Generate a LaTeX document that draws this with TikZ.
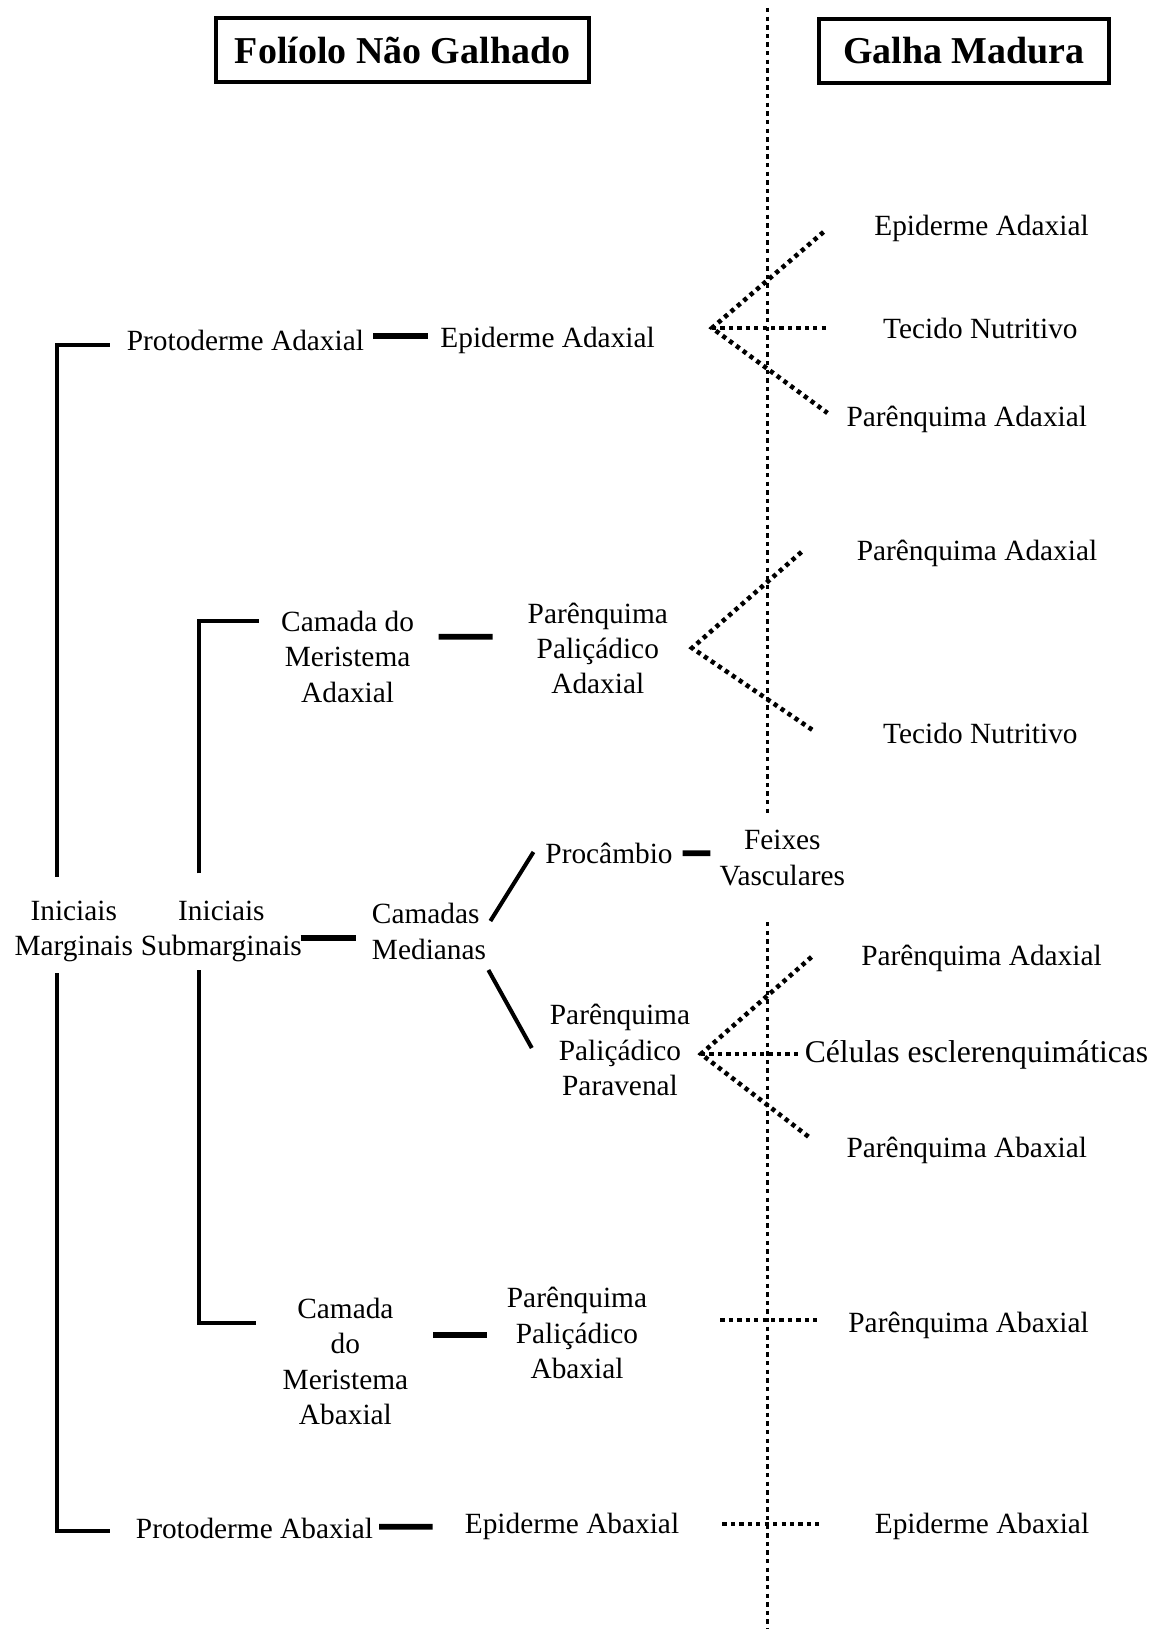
\documentclass[tikz,border=0pt]{standalone}
\usepackage{fontspec}
\setmainfont{Liberation Serif}
\usepackage{tikz}
\tikzset{
  lbl/.style={font=\fontsize{16.7}{20.1}\selectfont, align=center, inner sep=0pt},
  titlebox/.style={draw, line width=2.5pt, inner sep=0pt, font=\bfseries\fontsize{21.6}{26}\selectfont},
  tree/.style={line width=2.3pt},
  bar/.style={line width=3.3pt},
  guide/.style={line width=2.2pt, dash pattern=on 2.5pt off 2.4pt},
  fan/.style={line width=2.6pt, dash pattern=on 2.4pt off 2.4pt},
}

\begin{document}
\begin{tikzpicture}[x=0.02cm, y=-0.02cm]
\useasboundingbox (0,0) rectangle (1158,1629);

% headings
\node[titlebox, minimum width=7.46cm, minimum height=1.28cm] (folhead) at (402.5,50) {Folíolo Não Galhado};
\node[titlebox, minimum width=5.79cm, minimum height=1.28cm] (galhead) at (964,51) {Galha Madura};

% dividing line
\coordinate (gtop) at (767.5,8);
\coordinate (gmid) at (767.5,813);
\coordinate (glow) at (767.5,922);
\coordinate (gbot) at (767.5,1629);
\draw[guide] (gtop) -- (gmid);
\draw[guide] (glow) -- (gbot);

% leaflet side
\node[lbl] (inimarg) at (73.8,931.5) {Iniciais\\Marginais};
\node[lbl] (inisub) at (221.4,931.5) {Iniciais\\Submarginais};
\node[lbl, align=left] (camed) at (429,931.5) {Camadas\\Medianas};
\node[lbl] (protad) at (245.4,340) {Protoderme Adaxial};
\node[lbl] (epiad) at (547.6,340) {Epiderme Adaxial};
\node[lbl] (camad) at (347.6,656.7) {Camada do\\Meristema\\Adaxial};
\node[lbl] (ppad) at (597.8,648.3) {Parênquima\\Paliçádico\\Adaxial};
\node[lbl] (procamb) at (609,853.3) {Procâmbio};
\node[lbl] (feixes) at (782.3,858) {Feixes\\Vasculares};
\node[lbl] (pppv) at (620,1050) {Parênquima\\Paliçádico\\Paravenal};
\node[lbl] (camab) at (345.4,1361.5) {Camada\\do\\Meristema\\Abaxial};
\node[lbl] (ppab) at (577,1333) {Parênquima\\Paliçádico\\Abaxial};
\node[lbl] (protab) at (254.5,1528.3) {Protoderme Abaxial};
\node[lbl] (epiab) at (572,1526) {Epiderme Abaxial};

% gall side
\node[lbl] (gEpiAd) at (981.5,228) {Epiderme Adaxial};
\node[lbl] (gTecA) at (980.4,328) {Tecido Nutritivo};
\node[lbl] (gParA) at (966.8,419) {Parênquima Adaxial};
\node[lbl] (gParB) at (977,553) {Parênquima Adaxial};
\node[lbl] (gTecB) at (980.4,733) {Tecido Nutritivo};
\node[lbl] (gParC) at (981.5,958) {Parênquima Adaxial};
\node[lbl, font=\fontsize{18}{21}\selectfont] (gCel) at (976.5,1055) {Células esclerenquimáticas};
\node[lbl] (gParD) at (966.8,1150) {Parênquima Abaxial};
\node[lbl] (gParE) at (968.6,1325) {Parênquima Abaxial};
\node[lbl] (gEpiAb) at (982,1526.7) {Epiderme Abaxial};

% brackets
\draw[tree] ([shift={(-17,-24)}]inimarg.north) |- ([shift={(-16.3,5)}]protad.west);
\draw[tree] ([shift={(-17,11)}]inimarg.south) |- ([shift={(-25.4,2.4)}]protab.west);
\draw[tree] ([shift={(-22.4,-27.3)}]inisub.north) |- ([shift={(-22.1,-35.7)}]camad.west);
\draw[tree] ([shift={(-22.4,7.6)}]inisub.south) |- ([shift={(-26.7,-38.8)}]camab.west);

% short links
\draw[bar] ([shift={(9,-4)}]protad.east) -- ([shift={(-12.6,-4)}]epiad.west);
\draw[bar] ([shift={(24.2,-20)}]camad.east) -- ([shift={(-34.7,-11.6)}]ppad.west);
\draw[bar] ([shift={(-1.6,6.2)}]inisub.east) -- ([shift={(-15.3,6.2)}]camed.west);
\draw[bar] ([shift={(9.7,0)}]procamb.east) -- ([shift={(-8.9,-4.7)}]feixes.west);
\draw[bar] ([shift={(24.9,-26.5)}]camab.east) -- ([shift={(-20,2)}]ppab.west);
\draw[bar] ([shift={(5.7,-1.6)}]protab.east) -- ([shift={(-31.8,0.7)}]epiab.west);
\draw[tree] ([shift={(4,-10.5)}]camed.east) -- ([shift={(-11.6,-1.3)}]procamb.west);
\draw[tree] ([shift={(2,38.5)}]camed.east) -- ([shift={(-17.8,-2)}]pppv.west);

% fans
\coordinate (fanA) at (712,328);
\coordinate (fanB) at (692,648);
\coordinate (fanC) at (701,1054);
\draw[fan] ([shift={(-50.5,4)}]gEpiAd.west) -- (fanA) -- ([shift={(-18.8,-6)}]gParA.west);
\draw[fan] (fanA) -- ([shift={(-54.4,0)}]gTecA.west);
\draw[fan] ([shift={(-55,-1)}]gParB.west) -- (fanB) -- ([shift={(-70.4,-3)}]gTecB.west);
\draw[fan] ([shift={(-49.5,-1)}]gParC.west) -- (fanC) -- ([shift={(-34.8,-11)}]gParD.west);
\draw[fan] (fanC) -- ([shift={(-3,-1)}]gCel.west);
\draw[fan] ([shift={(73,-13)}]ppab.east) -- ([shift={(-29.7,-5)}]gParE.west);
\draw[fan] ([shift={(43,-2)}]epiab.east) -- ([shift={(-55.5,-2.7)}]gEpiAb.west);
\end{tikzpicture}
\end{document}
